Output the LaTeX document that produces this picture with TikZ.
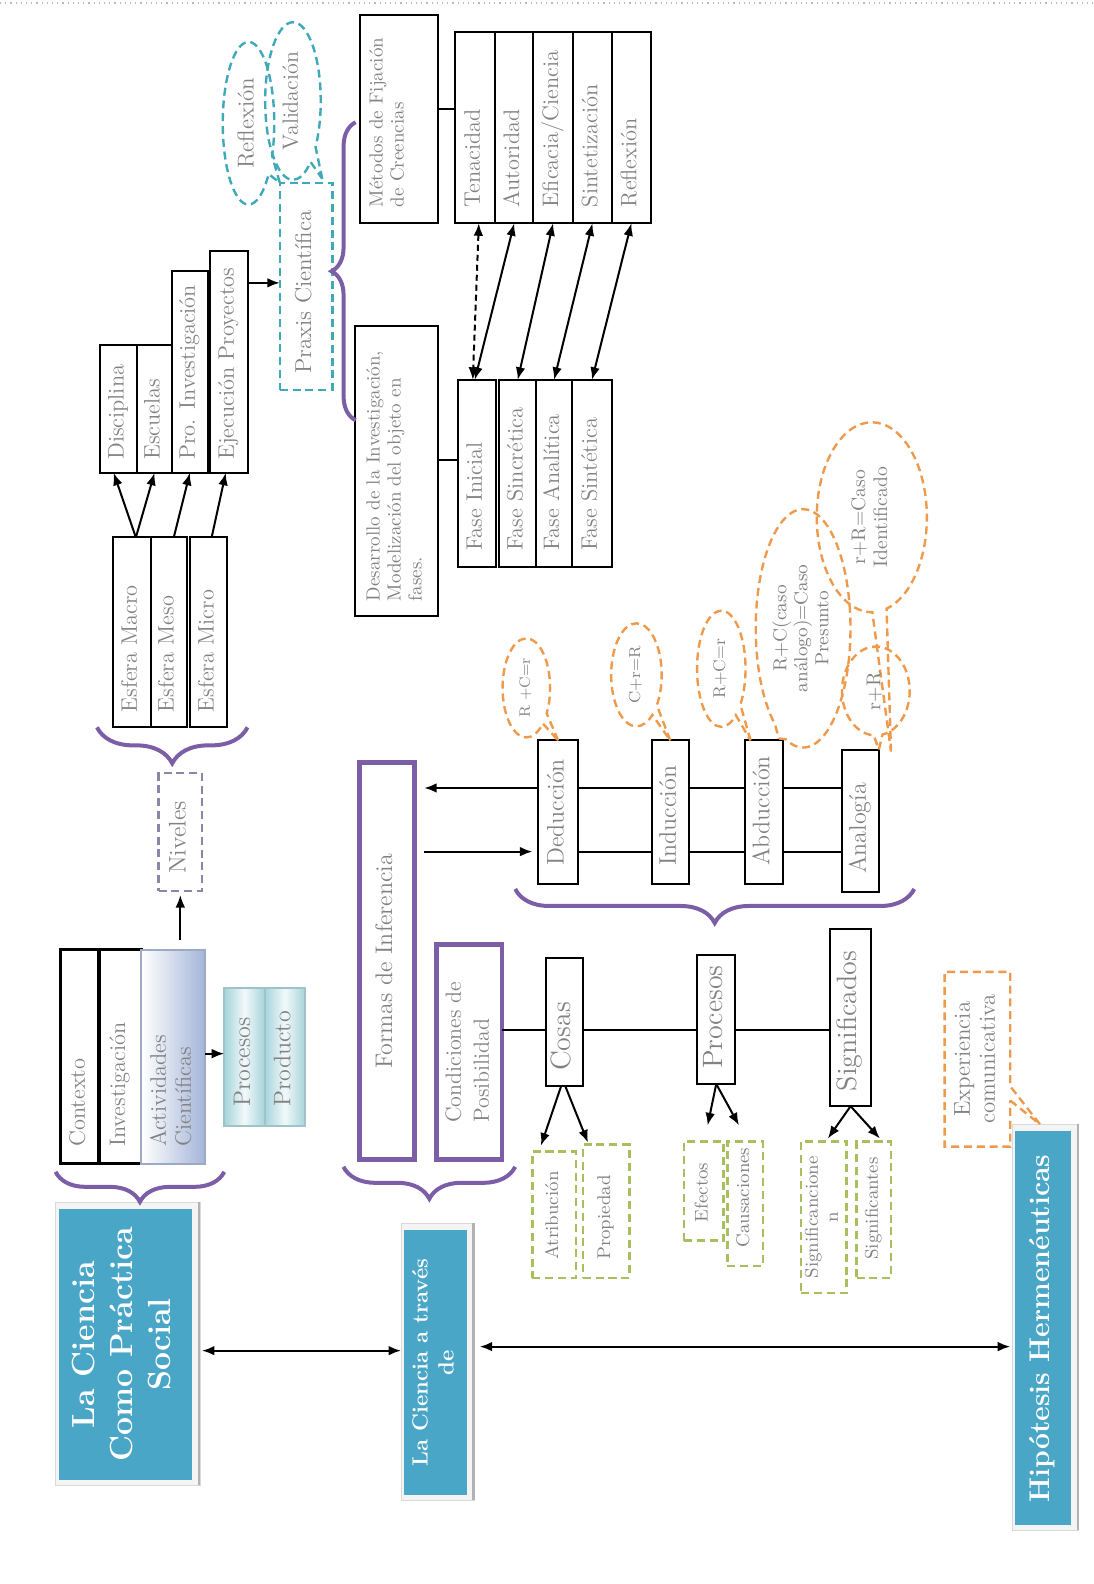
\documentclass[tikz,border=0pt]{standalone}
\usepackage{fontspec}
\usepackage{graphicx}
\usetikzlibrary{
arrows.meta,
positioning,
calc,
shapes.callouts,
decorations.pathreplacing,
backgrounds
}
\definecolor{azulCPS}{HTML}{4AA6C6}
\definecolor{moradoL}{HTML}{7C5EA6}
\definecolor{turquesa}{HTML}{3FA9B8}
\definecolor{naranjaB}{HTML}{EE9A4C}
\definecolor{verdeB}{HTML}{A8BF5F}
\definecolor{grisT}{HTML}{828282}
\definecolor{lilaN}{HTML}{8D85A6}
\definecolor{aceroA}{HTML}{A4B5D8}
\definecolor{cianP}{HTML}{A6D4DB}
\newcommand{\px}{0.505pt}
\newlength{\pxl}
\setlength{\pxl}{0.505pt}
\newcommand{\vt}[1]{\rotatebox{90}{\begin{tabular}{@{}c@{}}#1\end{tabular}}}
\newcommand{\vtl}[1]{\rotatebox{90}{\begin{tabular}{@{}l@{}}#1\end{tabular}}}
\newcommand{\vb}[2]{\pgfmathsetlengthmacro{\largo}{(#1)*\pxl}\rotatebox{90}{\makebox[\largo][l]{\begin{tabular}{@{}l@{}}#2\end{tabular}}}}

\begin{document}
\begin{tikzpicture}[x=0.505pt, y=-0.505pt,
    caja/.style={draw=black, line width=1pt, fill=white, text=grisT, inner sep=1pt, outer sep=0pt, font=\fontsize{11.2}{12.5}\selectfont},
    dims/.style 2 args={minimum width={(#1)*\px}, minimum height={(#2)*\px}},
    grande/.style={font=\fontsize{12}{14}\selectfont},
    mayor/.style={font=\fontsize{14}{15}\selectfont},
    lila/.style={caja, draw=moradoL, line width=2.4pt},
    guion/.style={dash pattern=on 4pt off 2.4pt, line width=1.2pt},
    verde/.style={caja, guion, draw=verdeB, fill=none, font=\fontsize{9.2}{10}\selectfont},
    titulo/.style={fill=azulCPS, text=white, inner sep=2pt, outer sep=0pt},
    marco/.style={fill=gray!9, draw=gray!30, line width=0.5pt},
    llave/.style={decorate, decoration={brace, amplitude=#1}, draw=moradoL, line width=2pt},
    flecha/.style={-{Latex[length=2.2mm, width=1.7mm]}, line width=1pt},
    doble/.style={{Latex[length=2.2mm, width=1.7mm]}-{Latex[length=2.2mm, width=1.7mm]}, line width=1pt},
    globo/.style={ellipse callout, guion, draw=naranjaB, text=grisT, inner sep=1pt, font=\fontsize{9}{10.5}\selectfont}
]
\useasboundingbox (0,0) rectangle (1082,1568);
\draw[gray!55, dotted, line width=0.6pt] (0,3) -- (1082,3);

% filas de los conectores
\coordinate (fMet) at (0,108);
\coordinate (fDes) at (0,455);
\coordinate (fPrx) at (0,280);
\coordinate (fAct) at (0,1043);
\coordinate (fInfA) at (0,780);
\coordinate (fInfB) at (0,843);
\coordinate (fCond) at (0,1020);
\coordinate (fCie) at (0,1337);
\coordinate (fHip) at (0,1333);

% columna izquierda
\node[titulo, dims={132}{268}, font=\fontsize{16}{19}\selectfont\bfseries] (lcp) at (124,1331) {\vt{La Ciencia\\Como Práctica\\Social}};
\node[caja, dims={38}{212}, line width=1.6pt] (ctx) at (79,1046) {\vb{212-34}{Contexto}};
\node[caja, dims={42}{212}, line width=1.6pt] (inv) at (119,1046) {\vb{212-34}{Investigación}};
\node[caja, dims={63}{212}, draw=aceroA!80!gray, left color=white, right color=aceroA] (act) at (171.5,1046) {\vb{212-34}{Actividades\\Científicas}};
\foreach \nm/\cx/\txt in {pro/242/Procesos, prd/282/Producto}
    \node[caja, dims={40}{137}, draw=cianP!80!gray, left color=cianP, right color=cianP, middle color=cianP!15, grande] (\nm) at (\cx,1046.5) {\vb{137-40}{\txt}};
\node[caja, guion, draw=lilaN, dims={43}{117}, font=\fontsize{12}{13}\selectfont] (niv) at (178.5,823.5) {\vb{117-34}{Niveles}};
\foreach \nm/\cx/\w/\txt in {mac/130.5/37/Esfera Macro, mes/167/36/Esfera Meso, mic/206.5/37/Esfera Micro}
    \node[caja, dims={\w}{188}] (\nm) at (\cx,626) {\vb{188-30}{\txt}};
\foreach \nm/\cx/\w/\cy/\h/\txt in {dis/117.5/37/405/126/Disciplina, esc/153/34/405/126/Escuelas, pin/188/36/368/200/Pro. Investigación, eje/226.5/37/358/220/Ejecución Proyectos}
    \node[caja, dims={\w}{\h}] (\nm) at (\cx,\cy) {\vb{\h-26}{\txt}};

% praxis
\node[caja, guion, draw=turquesa, fill=none, dims={52}{205}, font=\fontsize{11.5}{12.5}\selectfont] (prx) at (303,283.5) {\vb{205-32}{Praxis Científica}};
\node[globo, draw=turquesa, dims={51}{161}, font=\fontsize{11.5}{12.5}\selectfont, callout absolute pointer={(prx.north west)}] (rfx) at (246,122) {\vt{Reflexión}};
\node[globo, draw=turquesa, dims={55}{156}, font=\fontsize{11}{12}\selectfont, callout absolute pointer={([shift={(-10,-4)}]prx.north east)}] (val) at (290,100) {\vt{Validación}};

\node[caja, dims={78}{206}, text width=31pt, align=left, font=\fontsize{9.5}{10.5}\selectfont] (met) at (395,118) {\vb{206-32}{Métodos de Fijación\\de Creencias}};
\foreach \nm/\cx/\w/\txt in {ten/470/40/Tenacidad, aut/509/38/Autoridad, efi/547.5/39/{Eficacia/Ciencia}, stz/586.5/39/Sintetización, rfl/625/38/Reflexión}
    \node[caja, dims={\w}{189}] (\nm) at (\cx,126.5) {\vb{189-32}{\txt}};
\node[caja, dims={83}{287}, font=\fontsize{9.5}{10.5}\selectfont] (des) at (392.5,466.5) {\vb{287-30}{Desarrollo de la Investigación,\\Modelización del objeto en\\fases.}};
\foreach \nm/\cx/\w/\txt in {fin/472/38/Fase Inicial, fsc/512.5/37/Fase Sincrética, fan/548.5/35/Fase Analítica, fst/586/40/Fase Sintética}
    \node[caja, dims={\w}{185}] (\nm) at (\cx,468.5) {\vb{185-32}{\txt}};

% inferencia
\node[lila, dims={54}{393}, font=\fontsize{12}{13}\selectfont] (fdi) at (383,951.5) {\vt{Formas de Inferencia}};
\node[lila, dims={65}{213}, font=\fontsize{11}{14}\selectfont] (cdp) at (464.5,1041.5) {\vtl{Condiciones de\\Posibilidad}};
\foreach \nm/\cx/\w/\cy/\h/\txt in {ded/552.5/39/804/142/Deducción, ind/663.5/37/804/142/Inducción, abd/756/38/804/142/Abducción, ana/851.5/37/812.5/141/Analogía}
    \node[caja, grande, dims={\w}{\h}] (\nm) at (\cx,\cy) {\vb{\h-36}{\txt}};
\foreach \nm/\cx/\w/\cy/\h/\txt in {cos/558.5/37/1011.5/127/Cosas, prc/709/38/1009/128/Procesos, sig/842/40/1007.5/175/Significados}
    \node[caja, mayor, dims={\w}{\h}] (\nm) at (\cx,\cy) {\vb{\h-30}{\txt}};
\foreach \nm/\cx/\w/\cy/\h/\txt in {atr/548.5/43/1202.5/125/Atribución, prp/600/46/1199/132/Propiedad, efe/696.5/39/1179/98/Efectos, cau/737.5/35/1191.5/123/Causaciones, sgt/865/34/1197.5/135/Significantes}
    \node[verde, dims={\w}{\h}] (\nm) at (\cx,\cy) {\vb{\h-36}{\txt}};
\node[verde, dims={45}{150}] (sgc) at (815.5,1205) {\vt{Significancione\\n}};

\node[titulo, dims={62}{262}, font=\fontsize{11}{13}\selectfont\bfseries] (lct) at (431,1349) {\vt{La Ciencia a través\\de}};
\node[titulo, dims={55}{390}, font=\fontsize{14.2}{15}\selectfont\bfseries] (hh) at (1032.5,1315) {\vt{Hipótesis Hermenéuticas}};
\node[rectangle callout, guion, draw=naranjaB, text=grisT, dims={65}{173}, inner sep=1pt, font=\fontsize{11.5}{12.5}\selectfont, callout absolute pointer={([shift={(-3,-7)}]hh.north)}] (exp) at (967.5,1048.5) {\vt{Experiencia\\comunicativa}};

% globos naranja
\node[globo, dims={47}{98}, font=\fontsize{7.5}{9}\selectfont, callout absolute pointer={(ded.north)}] (g1) at (521,681) {\vt{R +C=r}};
\node[globo, dims={50}{102}, font=\fontsize{8}{9}\selectfont, callout absolute pointer={(ind.north)}] (g2) at (630,668) {\vt{C+r=R}};
\node[globo, dims={48}{115}, font=\fontsize{8.5}{9.5}\selectfont, callout absolute pointer={([shift={(6,0)}]abd.north west)}] (g3) at (714,662) {\vt{R+C=r}};
\node[globo, dims={89}{236}, font=\fontsize{9.4}{10.5}\selectfont, callout absolute pointer={([shift={(-4,-2)}]abd.north east)}] (g4) at (795,622) {\vt{R+C(caso\\análogo)=Caso\\Presunto}};
\node[globo, dims={109}{188}, font=\fontsize{9.8}{11}\selectfont, callout absolute pointer={([shift={(12,2)}]ana.north east)}] (g5) at (863,512) {\vt{r+R=Caso\\Identificado}};
\node[globo, dims={67}{88}, font=\fontsize{10}{11}\selectfont, callout absolute pointer={(ana.north east)}] (g6) at (867,684) {\vt{r+R}};

% marcos de los titulos
\begin{scope}[on background layer]
\foreach \nm in {lcp, lct, hh} {
    \draw[marco] ([shift={(-3,-7)}]\nm.north west) rectangle ([shift={(8,5)}]\nm.south east);
    \draw[gray!60, line width=1.3pt] ([shift={(7,-7)}]\nm.north east) -- ([shift={(7,5)}]\nm.south east);
}
\end{scope}

% llaves
\draw[llave=15pt] (222,1160) -- (55,1160);
\draw[llave=18pt] (245,720) -- (96,720);
\draw[llave=12pt] (352,416) -- (352,121);
\draw[llave=16pt] (510,1155) -- (340,1155);
\draw[llave=17pt] (905,880) -- (510,880);

% conectores
\draw[flecha, shorten <=5pt, shorten >=2pt] (niv.south |- act.north) -- (niv.south);
\draw[flecha] (act.east |- fAct) -- (pro.west |- fAct);
\draw[flecha] ([shift={(4,0)}]mac.north) -- ([shift={(-5,0)}]dis.south);
\draw[flecha] ([shift={(4,0)}]mac.north) -- (esc.south);
\draw[flecha] ([shift={(5,0)}]mes.north) -- (pin.south);
\draw[flecha] ([shift={(3,0)}]mic.north) -- ([shift={(-3,0)}]eje.south);
\draw[flecha] (eje.east |- fPrx) -- (prx.west |- fPrx);
\draw[line width=1pt] (met.east |- fMet) -- (ten.west |- fMet);
\draw[line width=1pt] (des.east |- fDes) -- (fin.west |- fDes);
\draw[doble, densely dashed] ([shift={(4,0)}]ten.south) -- ([shift={(-4,0)}]fin.north);
\draw[doble] (aut.south) -- ([shift={(-2,0)}]fin.north);
\draw[doble] (efi.south) -- (fsc.north);
\draw[doble] (stz.south) -- (fan.north);
\draw[doble] (rfl.south) -- (fst.north);

\draw[flecha, shorten >=5pt] (ded.west |- fInfA) -- (fdi.east |- fInfA);
\draw[flecha, shorten <=5pt, shorten >=3pt] (fdi.east |- fInfB) -- (ded.west |- fInfB);
\foreach \a/\b in {ded/ind, ind/abd, abd/ana} {
    \draw[line width=1pt] (\a.east |- fInfA) -- (\b.west |- fInfA);
    \draw[line width=1pt] (\a.east |- fInfB) -- (\b.west |- fInfB);
}
\draw[line width=1pt] (cdp.east |- fCond) -- (cos.west |- fCond);
\draw[line width=1pt] (cos.east |- fCond) -- (prc.west |- fCond);
\draw[line width=1pt] (prc.east |- fCond) -- (sig.west |- fCond);

\draw[flecha] ([shift={(-3,0)}]cos.south) -- ([shift={(-13,-6)}]atr.north);
\draw[flecha] ([shift={(1,0)}]cos.south) -- ([shift={(-18,-2)}]prp.north);
\draw[flecha] (prc.south) -- ([shift={(4,-16)}]efe.north);
\draw[flecha] (prc.south) -- ([shift={(-6,-16)}]cau.north);
\draw[flecha] (sig.south) -- ([shift={(4,-3)}]sgc.north);
\draw[flecha] (sig.south) -- ([shift={(6,-3)}]sgt.north);

\draw[doble, shorten <=5pt, shorten >=1.5pt] (lcp.east |- fCie) -- (lct.west |- fCie);
\draw[doble, shorten <=6.5pt, shorten >=2.5pt] (lct.east |- fHip) -- (hh.west |- fHip);
\end{tikzpicture}
\end{document}
